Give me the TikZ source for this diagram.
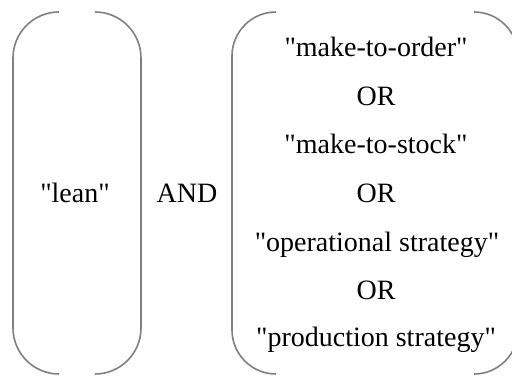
\documentclass[tikz,border=0pt]{standalone}
\usepackage{fontspec}
\setmainfont{Liberation Serif}
\newcommand\sq{\textquotedbl}
\begin{document}
\begin{tikzpicture}[x=0.5pt,y=0.5pt,
  bracketline/.style={draw=black!50, line width=0.8pt},
  term/.style={font=\fontsize{14pt}{16pt}\selectfont, anchor=base, inner sep=0pt, text=black}]
\useasboundingbox (0,0) rectangle (512,378);
\begin{scope}
  \clip (0,0) rectangle (512,378);
  % left pair of round brackets
  \draw[bracketline] (59,366) arc[start angle=90, end angle=180, radius=46]
    -- (13,50) arc[start angle=180, end angle=270, radius=46];
  \draw[bracketline] (95,366) arc[start angle=90, end angle=0, radius=46]
    -- (141,50) arc[start angle=0, end angle=-90, radius=46];
  % right pair of round brackets
  \draw[bracketline] (276,366) arc[start angle=90, end angle=180, radius=44]
    -- (232,48) arc[start angle=180, end angle=270, radius=44];
  \draw[bracketline] (474,366) arc[start angle=90, end angle=0, radius=44]
    -- (518,48) arc[start angle=0, end angle=-90, radius=44];
\end{scope}
% search terms
\node[term] (lean) at (75,175) {\sq lean\sq};
\node[term] (and) at (187,175) {AND};
\node[term] (mto) at (376,321) {\sq make-to-order\sq};
\node[term] (or1) at (376,272) {OR};
\node[term] (mts) at (376,224) {\sq make-to-stock\sq};
\node[term] (or2) at (376,175) {OR};
\node[term] (ops) at (377,126) {\sq operational strategy\sq};
\node[term] (or3) at (376,78) {OR};
\node[term] (prod) at (376,31) {\sq production strategy\sq};
\end{tikzpicture}
\end{document}
